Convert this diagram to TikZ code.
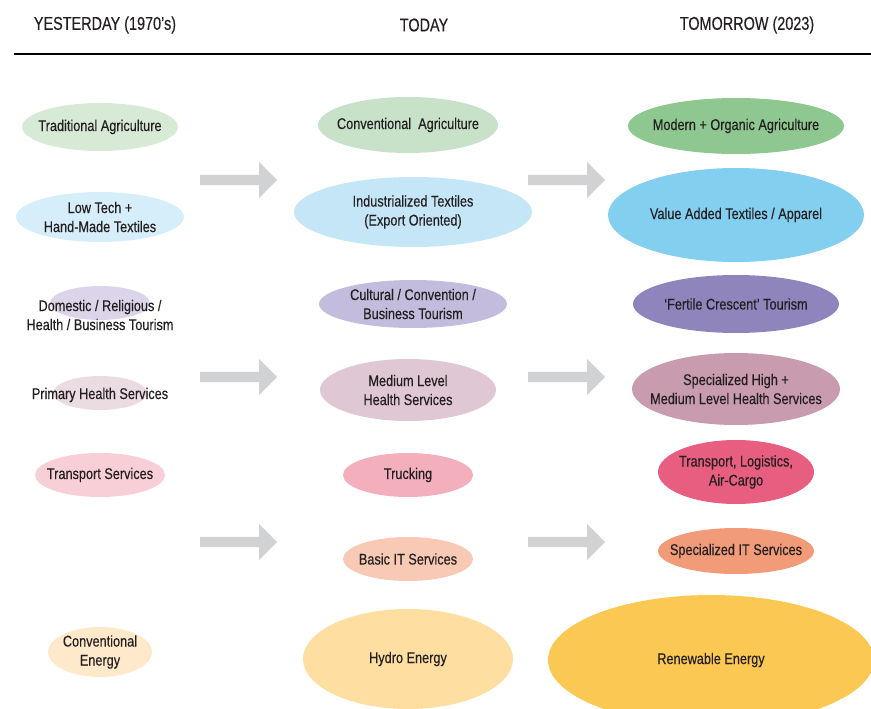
\documentclass[tikz,border=0pt]{standalone}
\usepackage{fontspec}
\setmainfont{Liberation Sans}
\newfontfamily\bodyfont{Liberation Sans}[FakeStretch=0.82,FakeBold=0.3]
\newfontfamily\headfont{Liberation Sans}[FakeStretch=0.78,FakeBold=0.3]
\usetikzlibrary{shapes.geometric,shapes.arrows}

\definecolor{inkdark}{HTML}{231F20}
\definecolor{arrowgray}{HTML}{D1D2D4}
% yesterday
\definecolor{yagri}{HTML}{D7EAD5}
\definecolor{ytex}{HTML}{D6EEFA}
\definecolor{ytour}{HTML}{DCD5EA}
\definecolor{yhealth}{HTML}{EBDBE3}
\definecolor{ytrans}{HTML}{F8CFD6}
\definecolor{yenergy}{HTML}{FEEACB}
% today
\definecolor{tagri}{HTML}{C8E2C9}
\definecolor{ttex}{HTML}{C4E6F7}
\definecolor{ttour}{HTML}{C3BCDD}
\definecolor{thealth}{HTML}{DFC8D4}
\definecolor{ttrans}{HTML}{F3B0BC}
\definecolor{tit}{HTML}{F8C9B4}
\definecolor{tenergy}{HTML}{FEDEA1}
% tomorrow
\definecolor{magri}{HTML}{8FC790}
\definecolor{mtex}{HTML}{83CFF0}
\definecolor{mtour}{HTML}{8F85BC}
\definecolor{mhealth}{HTML}{C89BAE}
\definecolor{mtrans}{HTML}{E85E80}
\definecolor{mit}{HTML}{F29B79}
\definecolor{menergy}{HTML}{FBC853}

\begin{document}
\begin{tikzpicture}[x=1pt,y=-1pt,
  oval/.style={ellipse, inner sep=0pt, draw=none},
  txt/.style={inner sep=0pt, text=inkdark, align=center,
    font=\bodyfont\fontsize{15.5}{19}\selectfont},
  head/.style={inner sep=0pt, text=inkdark, font=\headfont\fontsize{18.5}{22}\selectfont},
  grayarrow/.style={single arrow, fill=arrowgray, draw=none, inner sep=5pt,
    minimum height=77pt, single arrow head extend=13pt, anchor=tail}]

\clip (0,0) rectangle (871,709);

% En-tetes
\node[head] (hy) at (105,25) {YESTERDAY (1970’s)};
\node[head] (ht) at (424,25) {TODAY};
\node[head] (hm) at (747,25) {TOMORROW (2023)};
\draw[line width=1.2pt] (14,54) -- (871,54); % filet

% Colonne Yesterday
\node[oval, fill=yagri, minimum width=156pt, minimum height=48pt, label={[txt]center:Traditional Agriculture}] (yAgri) at (100,127) {};
\node[oval, fill=ytex, minimum width=168pt, minimum height=50pt, label={[txt]center:{Low Tech +\\Hand-Made Textiles}}] (yTex) at (100,217) {};
\node[oval, fill=ytour, minimum width=100pt, minimum height=34pt] (yTour) at (100,303) {};
\node[txt] (yTourTxt) at (100,315) {Domestic / Religious /\\Health / Business Tourism};
\node[oval, fill=yhealth, minimum width=94pt, minimum height=34pt] (yHealth) at (100,393) {};
\node[txt] (yHealthTxt) at (100,395) {Primary Health Services};
\node[oval, fill=ytrans, minimum width=130pt, minimum height=44pt, label={[txt]center:Transport Services}] (yTrans) at (100,475) {};
\node[oval, fill=yenergy, minimum width=104pt, minimum height=50pt, label={[txt]center:{Conventional\\Energy}}] (yEnergy) at (100,652) {};

% Colonne Today
\node[oval, fill=tagri, minimum width=180pt, minimum height=56pt, label={[txt]center:Conventional~ Agriculture}] (tAgri) at (408,125) {};
\node[oval, fill=ttex, minimum width=238pt, minimum height=70pt, label={[txt]center:{Industrialized Textiles\\(Export Oriented)}}] (tTex) at (413,212) {};
\node[oval, fill=ttour, minimum width=188pt, minimum height=48pt, label={[txt]center:{Cultural / Convention /\\Business Tourism}}] (tTour) at (413,304) {};
\node[oval, fill=thealth, minimum width=176pt, minimum height=62pt, label={[txt]center:{Medium Level\\Health Services}}] (tHealth) at (408,390) {};
\node[oval, fill=ttrans, minimum width=130pt, minimum height=44pt, label={[txt]center:Trucking}] (tTrans) at (408,475) {};
\node[oval, fill=tit, minimum width=130pt, minimum height=44pt, label={[txt]center:Basic IT Services}] (tIT) at (408,559) {};
\node[oval, fill=tenergy, minimum width=210pt, minimum height=100pt, label={[txt]center:Hydro Energy}] (tEnergy) at (408,659) {};

% Colonne Tomorrow
\node[oval, fill=magri, minimum width=216pt, minimum height=56pt, label={[txt]center:Modern + Organic Agriculture}] (mAgri) at (736,126) {};
\node[oval, fill=mtex, minimum width=256pt, minimum height=94pt, label={[txt]center:Value Added Textiles / Apparel}] (mTex) at (736,215) {};
\node[oval, fill=mtour, minimum width=206pt, minimum height=58pt, label={[txt]center:‘Fertile Crescent’ Tourism}] (mTour) at (736,304) {};
\node[oval, fill=mhealth, minimum width=208pt, minimum height=72pt, label={[txt]center:{Specialized High +\\Medium Level Health Services}}] (mHealth) at (736,389) {};
\node[oval, fill=mtrans, minimum width=156pt, minimum height=64pt, label={[txt]center:{Transport, Logistics,\\Air-Cargo}}] (mTrans) at (736,472) {};
\node[oval, fill=mit, minimum width=156pt, minimum height=46pt, label={[txt]center:Specialized IT Services}] (mIT) at (736,551) {};
\node[oval, fill=menergy, minimum width=326pt, minimum height=130pt, label={[txt]center:Renewable Energy}] (mEnergy) at (711,660) {};

% Fleches grises
\node[grayarrow] (a1) at (200,180) {};
\node[grayarrow] (a2) at (200,377) {};
\node[grayarrow] (a3) at (200,542) {};
\node[grayarrow] (b1) at (528,180) {};
\node[grayarrow] (b2) at (528,377) {};
\node[grayarrow] (b3) at (528,542) {};

\end{tikzpicture}
\end{document}
